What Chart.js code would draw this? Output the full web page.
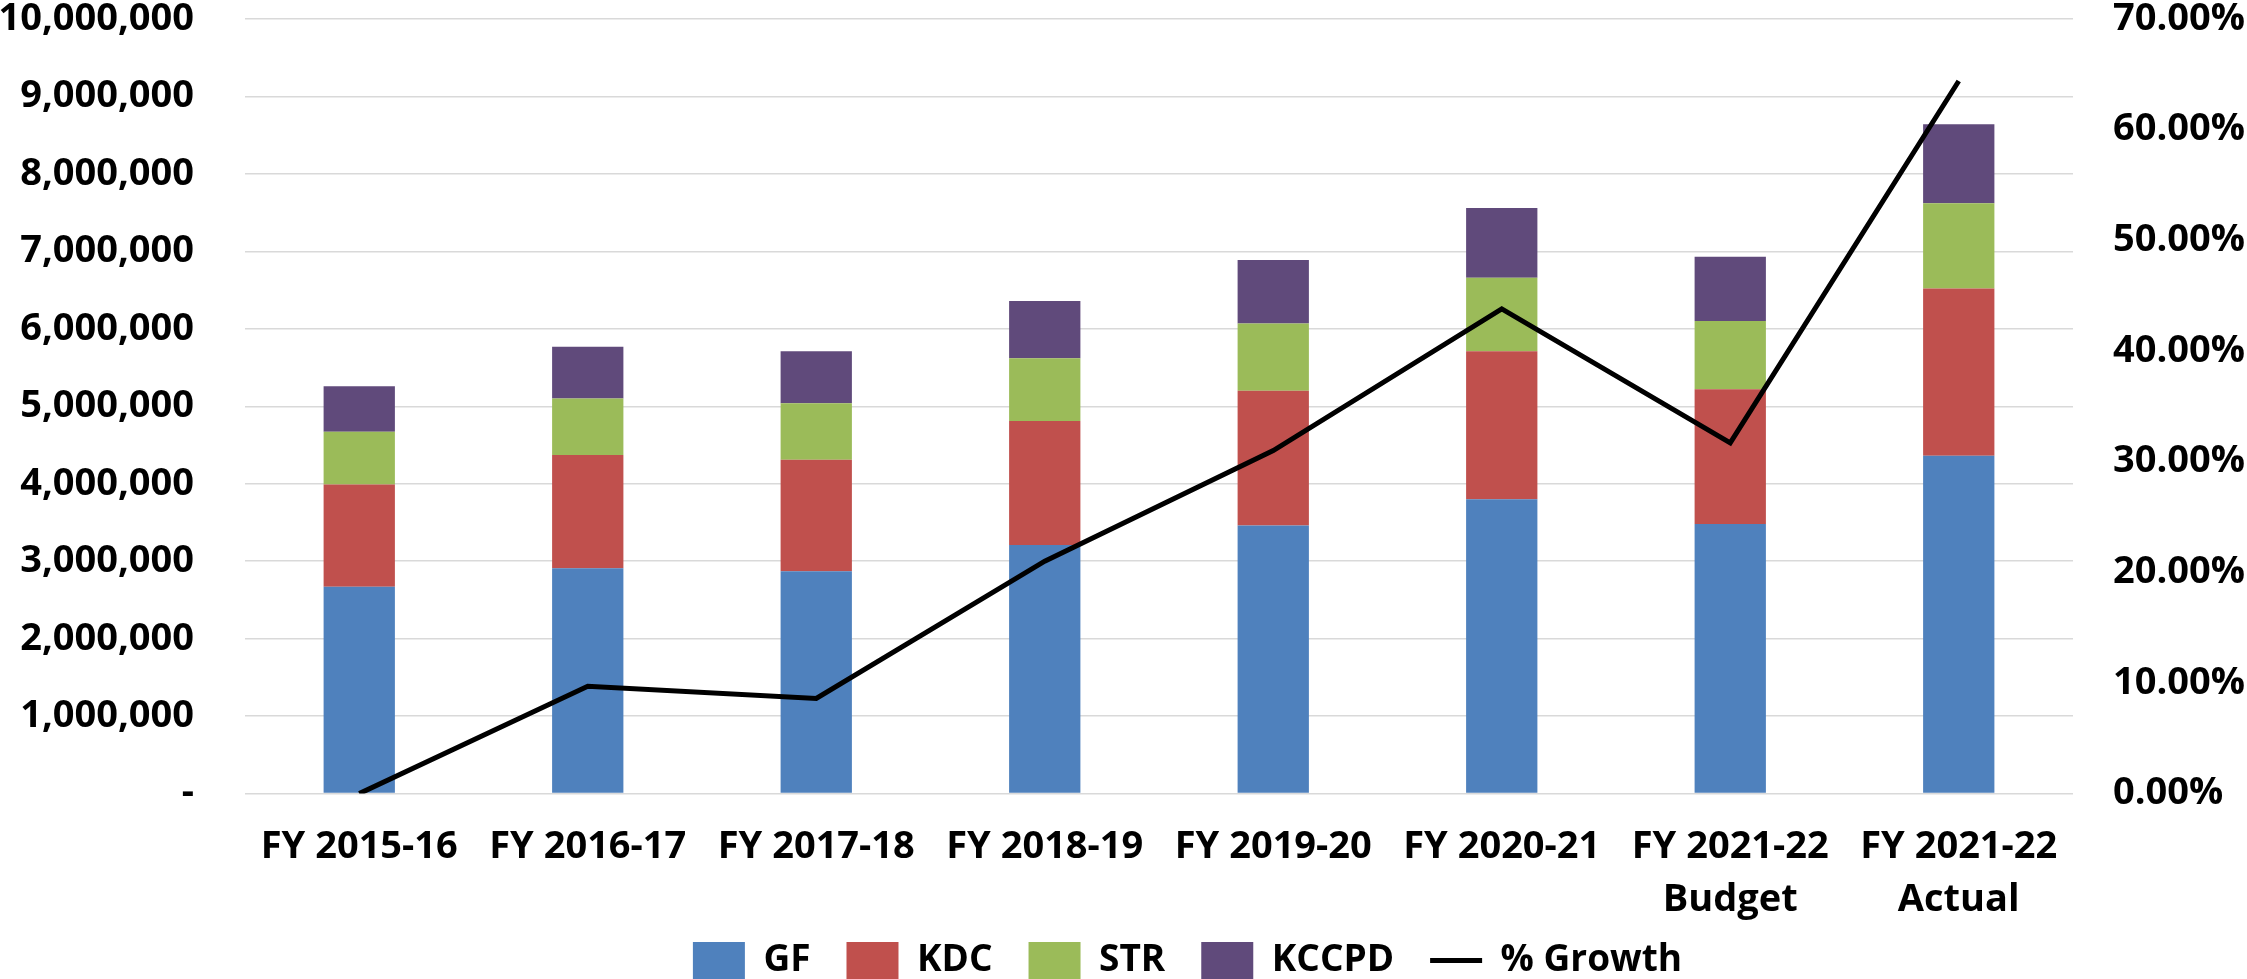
<!DOCTYPE html>
<html>
<head>
<meta charset="utf-8">
<script src="https://cdn.jsdelivr.net/npm/chart.js@4/dist/chart.umd.min.js"></script>
<style>
  html, body { margin: 0; padding: 0; background: #fff; overflow: hidden; }
  #wrap { width: 2247px; height: 1029px; position: relative; }
</style>
</head>
<body>
<div id="wrap"><canvas id="grafico"></canvas></div>
<script>
// anos fiscais
var categorias = ['FY 2015-16', 'FY 2016-17', 'FY 2017-18', 'FY 2018-19', 'FY 2019-20', 'FY 2020-21', ['FY 2021-22', 'Budget'], ['FY 2021-22', 'Actual']];

// valores empilhados
var gf    = [2670000, 2910000, 2870000, 3210000, 3460000, 3800000, 3480000, 4360000];
var kdc   = [1320000, 1460000, 1440000, 1600000, 1740000, 1910000, 1740000, 2160000];
var str   = [ 680000,  730000,  730000,  810000,  870000,  950000,  880000, 1100000];
var kccpd = [ 590000,  670000,  670000,  740000,  820000,  900000,  830000, 1020000];

// % de crescimento (eixo da direita)
var crescimento = [0, 9.7, 8.6, 21.0, 31.0, 43.8, 31.7, 64.4];

var ticksEsq = [0, 1000000, 2000000, 3000000, 4000000, 5000000, 6000000, 7000000, 8000000, 9000000, 10000000];
var ticksDir = [0, 10, 20, 30, 40, 50, 60, 70];

var fonte = 'Open Sans';

function barra(label, dados, cor) {
    return {
        type: 'bar',
        label: label,
        data: dados,
        backgroundColor: cor,
        yAxisID: 'y',
        order: 1,
        categoryPercentage: 1,
        barPercentage: 0.312
    };
}

// o padding dos ticks nao deve empurrar o topo do grafico
function ajustaEixo(largura) {
    return function(s) {
        s.width = largura;
        s.paddingTop = 19;
        s.paddingBottom = 19;
    };
}

// posiciona a legenda como no original
var moveLegenda = {
    id: 'moveLegenda',
    afterLayout: function(chart) {
        var l = chart.legend;
        l.left += 64; l.right += 64;
        l.top -= 40; l.bottom -= 40;
    }
};

var ctx = document.getElementById('grafico').getContext('2d');
window.myBar = new Chart(ctx, {
    data: {
        labels: categorias,
        datasets: [
            barra('GF', gf, '#4f81bd'),
            barra('KDC', kdc, '#c0504d'),
            barra('STR', str, '#9bbb59'),
            barra('KCCPD', kccpd, '#604a7b'),
            {
                type: 'line',
                label: '% Growth',
                data: crescimento,
                yAxisID: 'y1',
                borderColor: '#000',
                backgroundColor: '#000',
                borderWidth: 5,
                pointRadius: 0,
                tension: 0,
                order: 0
            }
        ]
    },
    plugins: [moveLegenda],
    options: {
        responsive: true,
        maintainAspectRatio: false,
        animation: false,
        layout: { padding: 0 },
        scales: {
            x: {
                stacked: true,
                grid: { display: false },
                border: { display: false },
                ticks: {
                    color: '#000',
                    padding: 19,
                    maxRotation: 0,
                    autoSkip: false,
                    font: { family: fonte, size: 38, weight: 'bold', lineHeight: 1.4 }
                }
            },
            y: {
                stacked: true,
                position: 'left',
                min: 0,
                max: 10000000,
                afterBuildTicks: function(s) { s.ticks = ticksEsq.map(function(v) { return { value: v }; }); },
                grid: { color: '#d9d9d9', lineWidth: 1.5, drawTicks: false },
                border: { display: false },
                ticks: {
                    color: '#000',
                    padding: 51,
                    font: { family: fonte, size: 38, weight: 'bold', lineHeight: 1 },
                    callback: function(v) { return v === 0 ? '-' : v.toLocaleString('en-US'); }
                },
                afterFit: ajustaEixo(245)
            },
            y1: {
                position: 'right',
                min: 0,
                max: 70,
                afterBuildTicks: function(s) { s.ticks = ticksDir.map(function(v) { return { value: v }; }); },
                grid: { display: false, drawTicks: false },
                border: { display: false },
                ticks: {
                    color: '#000',
                    padding: 40,
                    font: { family: fonte, size: 38, weight: 'bold', lineHeight: 1 },
                    callback: function(v) { return v.toFixed(2) + '%'; }
                },
                afterFit: ajustaEixo(174)
            }
        },
        plugins: {
            legend: {
                position: 'bottom',
                labels: {
                    color: '#000',
                    font: { family: fonte, size: 37, weight: 'bold' },
                    usePointStyle: true,
                    pointStyleWidth: 52,
                    padding: 36,
                    sort: function(a, b) { return a.datasetIndex - b.datasetIndex; },
                    generateLabels: function(chart) {
                        var itens = Chart.defaults.plugins.legend.labels.generateLabels(chart);
                        itens.forEach(function(it) {
                            var ds = chart.data.datasets[it.datasetIndex];
                            it.pointStyle = ds.type === 'line' ? 'line' : 'rect';
                            if (ds.type !== 'line') { it.lineWidth = 0; }
                        });
                        return itens;
                    }
                }
            },
            tooltip: { enabled: false }
        }
    }
});
</script>
</body>
</html>
